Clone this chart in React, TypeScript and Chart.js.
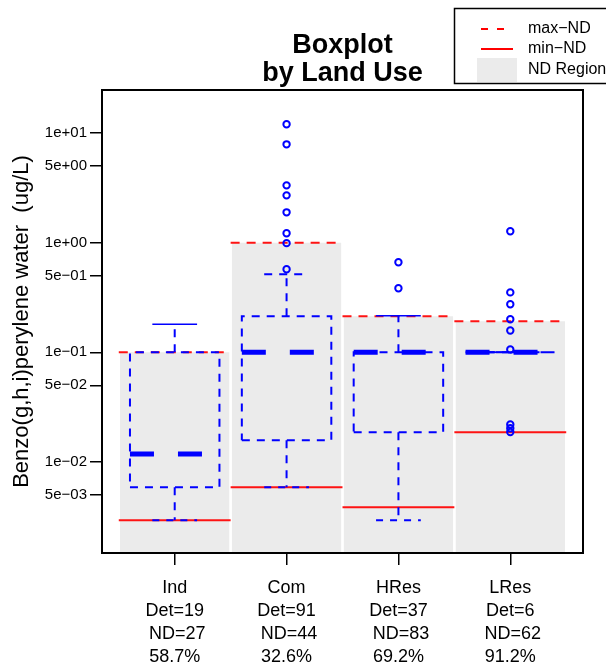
import React, { useEffect, useRef } from 'react';
import { Chart, registerables } from 'chart.js';

Chart.register(...registerables);

// ---------------- data ----------------
const categories = ['Ind', 'Com', 'HRes', 'LRes'];
const detCounts = [19, 91, 37, 6];
const ndCounts = [27, 44, 83, 62];
const ndPercent = ['58.7%', '32.6%', '69.2%', '91.2%'];

const maxND = [0.1, 1.0, 0.213, 0.192];
const minND = [0.00294, 0.00588, 0.00386, 0.0187];

const whiskerLow = [0.00294, 0.00588, 0.00294, 0.1];
const quart1 = [0.00588, 0.0158, 0.0187, 0.1];
const medians = [0.0118, 0.1, 0.1, 0.1];
const quart3 = [0.1, 0.213, 0.1, 0.1];
const whiskerHigh = [0.18, 0.514, 0.215, 0.1];

const outliersInd: number[] = [];
const outliersCom = [12.0, 7.88, 3.33, 2.7, 1.89, 1.22, 0.99, 0.572];
const outliersHRes = [0.663, 0.384];
const outliersLRes = [1.27, 0.352, 0.274, 0.2, 0.158, 0.106, 0.022, 0.0203, 0.0188];
const outlierSets = [outliersInd, outliersCom, outliersHRes, outliersLRes];

const yTickValues = [10, 5, 1, 0.5, 0.1, 0.05, 0.01, 0.005];
const yTickLabels = ['1e+01', '5e+00', '1e+00', '5e\u221201', '1e\u221201', '5e\u221202', '1e\u221202', '5e\u221203'];
const xTickValues = [1, 2, 3, 4];

const yMin = 0.00148;
const yMax = 24.66;

// ---------------- styles ----------------
const FONT = '"Liberation Sans", Arial, Helvetica, sans-serif';
const BLUE = '#0000ff';
const RED = 'rgba(255,0,0,0.92)';
const GRAY = '#ebebeb';
const upperCapDashed = [false, true, false, false];

function seg(pts: { x: number; y: number }[], color: string, width: number, dash: number[], order: number) {
  return {
    type: 'line' as const,
    data: pts,
    borderColor: color,
    borderWidth: width,
    borderDash: dash,
    borderCapStyle: 'butt' as const,
    pointRadius: 0,
    fill: false,
    tension: 0,
    order,
  };
}

function buildDatasets() {
  const ds: any[] = [];
  categories.forEach((_, i) => {
    const x = i + 1;
    // ND region
    ds.push({
      type: 'line',
      data: [{ x: x - 0.49, y: maxND[i] }, { x: x + 0.49, y: maxND[i] }],
      borderWidth: 0,
      borderColor: 'rgba(0,0,0,0)',
      backgroundColor: GRAY,
      fill: 'start',
      pointRadius: 0,
      order: 20,
    });
    // max-ND / min-ND
    ds.push(seg([{ x: x - 0.5, y: maxND[i] }, { x: x + 0.5, y: maxND[i] }], RED, 2, [9, 7], 10));
    ds.push(seg([{ x: x - 0.5, y: minND[i] }, { x: x + 0.5, y: minND[i] }], RED, 2, [], 10));
    // box
    ds.push(seg([
      { x: x - 0.4, y: quart1[i] },
      { x: x + 0.4, y: quart1[i] },
      { x: x + 0.4, y: quart3[i] },
      { x: x - 0.4, y: quart3[i] },
      { x: x - 0.4, y: quart1[i] },
    ], BLUE, 2, [8, 7], 5));
    // whiskers
    ds.push(seg([{ x, y: quart3[i] }, { x, y: whiskerHigh[i] }], BLUE, 2, [8, 7], 5));
    ds.push(seg([{ x, y: quart1[i] }, { x, y: whiskerLow[i] }], BLUE, 2, [8, 7], 5));
    // caps
    ds.push(seg([{ x: x - 0.2, y: whiskerHigh[i] }, { x: x + 0.2, y: whiskerHigh[i] }], BLUE,
      upperCapDashed[i] ? 2 : 1.5, upperCapDashed[i] ? [8, 7] : [], 5));
    ds.push(seg([{ x: x - 0.2, y: whiskerLow[i] }, { x: x + 0.2, y: whiskerLow[i] }], BLUE, 2, [7, 7], 5));
    // median
    ds.push(seg([{ x: x - 0.4, y: medians[i] }, { x: x + 0.4, y: medians[i] }], BLUE, 5, [24, 24], 3));
    // outliers
    if (outlierSets[i].length) {
      ds.push({
        type: 'line',
        data: outlierSets[i].map((v) => ({ x, y: v })),
        showLine: false,
        pointStyle: 'circle',
        pointRadius: 3.2,
        pointBorderWidth: 2,
        pointBorderColor: BLUE,
        pointBackgroundColor: 'rgba(0,0,0,0)',
        borderColor: BLUE,
        fill: false,
        order: 1,
      });
    }
  });
  return ds;
}

const decorPlugin = {
  id: 'decor',
  afterDraw(chart: any) {
    const { ctx, chartArea } = chart;
    ctx.save();
    // frame
    ctx.strokeStyle = '#000';
    ctx.lineWidth = 2;
    ctx.setLineDash([]);
    ctx.strokeRect(chartArea.left, chartArea.top, chartArea.right - chartArea.left, chartArea.bottom - chartArea.top);

    // title
    const cx = (chartArea.left + chartArea.right) / 2;
    ctx.fillStyle = '#000';
    ctx.font = `bold 27px ${FONT}`;
    ctx.textAlign = 'center';
    ctx.textBaseline = 'alphabetic';
    ctx.fillText('Boxplot', cx, 53);
    ctx.fillText('by Land Use', cx, 81);

    // y label
    ctx.save();
    ctx.translate(28, (chartArea.top + chartArea.bottom) / 2);
    ctx.rotate(-Math.PI / 2);
    ctx.font = `22px ${FONT}`;
    ctx.textAlign = 'center';
    ctx.textBaseline = 'alphabetic';
    ctx.fillText('Benzo(g,h,i)perylene water  (ug/L)', 0, 0);
    ctx.restore();

    // legend
    ctx.lineWidth = 1.5;
    ctx.strokeStyle = '#000';
    ctx.strokeRect(454.5, 8.5, 200, 75);
    ctx.strokeStyle = 'rgb(255,0,0)';
    ctx.lineWidth = 2;
    ctx.setLineDash([7, 9]);
    ctx.beginPath();
    ctx.moveTo(481, 29);
    ctx.lineTo(513, 29);
    ctx.stroke();
    ctx.setLineDash([]);
    ctx.beginPath();
    ctx.moveTo(481, 49);
    ctx.lineTo(513, 49);
    ctx.stroke();
    ctx.fillStyle = GRAY;
    ctx.fillRect(477, 58, 40, 24);
    ctx.fillStyle = '#000';
    ctx.font = `16px ${FONT}`;
    ctx.textAlign = 'left';
    ctx.textBaseline = 'middle';
    ctx.fillText('max\u2212ND', 528, 29);
    ctx.fillText('min\u2212ND', 528, 49);
    ctx.fillText('ND Region', 528, 70);
    ctx.restore();
  },
};

export default function App() {
  const ref = useRef<HTMLCanvasElement>(null);
  useEffect(() => {
    Chart.defaults.font.family = FONT;
    const chart = new Chart(ref.current as HTMLCanvasElement, {
      type: 'line',
      data: { datasets: buildDatasets() },
      options: {
        animation: false,
        responsive: false,
        devicePixelRatio: 1,
        events: [],
        layout: { padding: { left: 0, right: 23, top: 90, bottom: 0 } },
        plugins: {
          legend: { display: false },
          tooltip: { enabled: false },
          title: { display: false },
        },
        scales: {
          x: {
            type: 'linear',
            min: 0.35,
            max: 4.65,
            afterBuildTicks: (s: any) => {
              s.ticks = xTickValues.map((v) => ({ value: v }));
            },
            afterFit: (s: any) => {
              s.height = 117;
            },
            border: { display: false },
            grid: {
              drawOnChartArea: false,
              drawTicks: true,
              tickLength: 12,
              color: '#000',
              lineWidth: 1.5,
            },
            ticks: {
              autoSkip: false,
              maxRotation: 0,
              minRotation: 0,
              padding: 11.5,
              color: '#000',
              font: { size: 18, lineHeight: 1.28, family: FONT },
              callback: (_v: any, i: number) => [
                categories[i],
                `Det=${detCounts[i]}`,
                ` ND=${ndCounts[i]}`,
                ndPercent[i],
              ],
            },
          },
          y: {
            type: 'logarithmic',
            min: yMin,
            max: yMax,
            afterBuildTicks: (s: any) => {
              s.ticks = yTickValues.map((v) => ({ value: v }));
            },
            afterFit: (s: any) => {
              s.width = 102;
            },
            border: { display: false },
            grid: {
              drawOnChartArea: false,
              drawTicks: true,
              tickLength: 12,
              color: '#000',
              lineWidth: 1.5,
            },
            ticks: {
              autoSkip: false,
              padding: 3,
              color: '#000',
              font: { size: 15, family: FONT },
              callback: (_v: any, i: number) => yTickLabels[i],
            },
          },
        },
      },
      plugins: [decorPlugin],
    } as any);
    return () => chart.destroy();
  }, []);

  return (
    <div style={{ position: 'fixed', left: 0, top: 0, width: 606, height: 670, overflow: 'hidden', background: '#fff' }}>
      <canvas ref={ref} width={606} height={670} style={{ display: 'block', width: 606, height: 670 }} />
    </div>
  );
}
